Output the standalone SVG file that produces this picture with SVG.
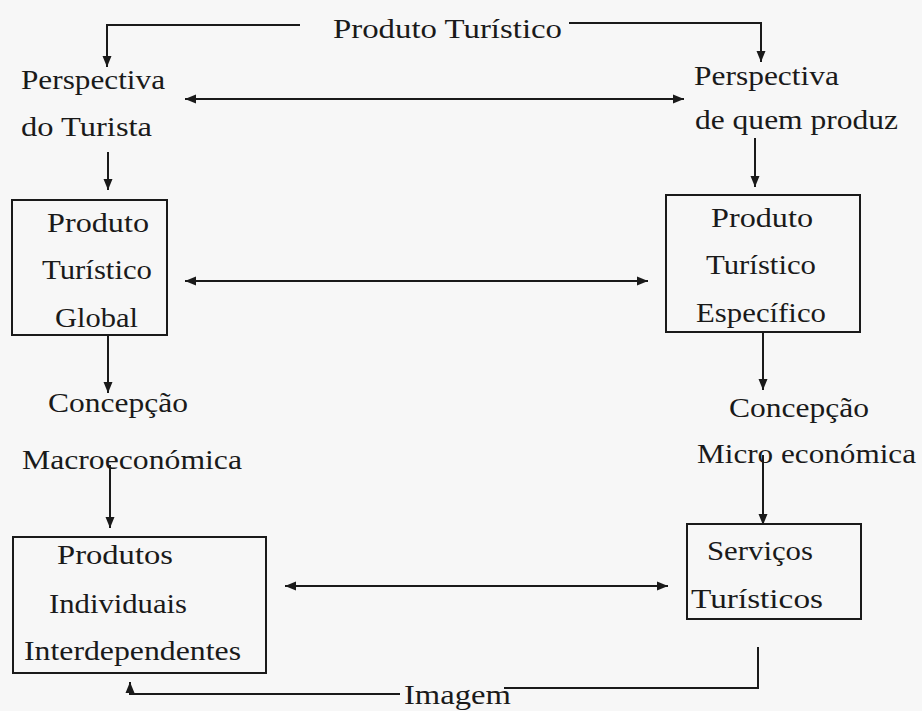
<svg xmlns="http://www.w3.org/2000/svg" width="922" height="711" viewBox="0 0 922 711">
<style>
.t text{font-size:28px;fill:#1a1a1a}
.box{fill:none;stroke:#1a1a1a;stroke-width:2}
.c{fill:none;stroke:#1a1a1a;stroke-width:2}
</style>
<defs>
<marker id="ah" markerUnits="userSpaceOnUse" markerWidth="12" markerHeight="10" refX="11" refY="5" orient="auto-start-reverse">
<path d="M0,0.5 L11,5 L0,9.5 z" fill="#1a1a1a"/>
</marker>
</defs>
<rect width="922" height="711" fill="#f7f7f7"/>
<g class="t" font-family="Liberation Serif, Times New Roman, Times, serif">
<g id="top"><text x="333" y="38" textLength="229" lengthAdjust="spacingAndGlyphs">Produto Turístico</text></g>
<g id="persp-turista">
<text x="21" y="89" textLength="144" lengthAdjust="spacingAndGlyphs">Perspectiva</text>
<text x="21" y="136" textLength="131" lengthAdjust="spacingAndGlyphs">do Turista</text>
</g>
<g id="persp-produz">
<text x="694" y="85" textLength="145" lengthAdjust="spacingAndGlyphs">Perspectiva</text>
<text x="695" y="129" textLength="203" lengthAdjust="spacingAndGlyphs">de quem produz</text>
</g>
<g id="global">
<rect class="box" x="12" y="200" width="155" height="135"/>
<text x="47" y="232" textLength="102" lengthAdjust="spacingAndGlyphs">Produto</text>
<text x="42" y="279" textLength="110" lengthAdjust="spacingAndGlyphs">Turístico</text>
<text x="55" y="327" textLength="83" lengthAdjust="spacingAndGlyphs">Global</text>
</g>
<g id="especifico">
<rect class="box" x="666" y="195" width="194" height="137"/>
<text x="711" y="227" textLength="102" lengthAdjust="spacingAndGlyphs">Produto</text>
<text x="706" y="274" textLength="110" lengthAdjust="spacingAndGlyphs">Turístico</text>
<text x="696" y="322" textLength="130" lengthAdjust="spacingAndGlyphs">Específico</text>
</g>
<g id="macro">
<text x="48" y="412" textLength="140" lengthAdjust="spacingAndGlyphs">Concepção</text>
<text x="22" y="469" textLength="220" lengthAdjust="spacingAndGlyphs">Macroeconómica</text>
</g>
<g id="micro">
<text x="729" y="417" textLength="140" lengthAdjust="spacingAndGlyphs">Concepção</text>
<text x="697" y="463" textLength="219" lengthAdjust="spacingAndGlyphs">Micro económica</text>
</g>
<g id="individuais">
<rect class="box" x="13" y="537" width="253" height="136"/>
<text x="57" y="564" textLength="116" lengthAdjust="spacingAndGlyphs">Produtos</text>
<text x="49" y="613" textLength="138" lengthAdjust="spacingAndGlyphs">Individuais</text>
<text x="24" y="660" textLength="217" lengthAdjust="spacingAndGlyphs">Interdependentes</text>
</g>
<g id="servicos">
<rect class="box" x="687" y="524" width="174" height="95"/>
<text x="707" y="560" textLength="106" lengthAdjust="spacingAndGlyphs">Serviços</text>
<text x="691" y="608" textLength="132" lengthAdjust="spacingAndGlyphs">Turísticos</text>
</g>
<g id="imagem"><text x="404" y="704" textLength="107" lengthAdjust="spacingAndGlyphs">Imagem</text></g>
</g>
<g id="connectors">
<path class="c" d="M300,25 H107 V67" marker-end="url(#ah)"/>
<path class="c" d="M569,23 H761 V62" marker-end="url(#ah)"/>
<path class="c" d="M185,99 H684" marker-start="url(#ah)" marker-end="url(#ah)"/>
<path class="c" d="M108,152 V190" marker-end="url(#ah)"/>
<path class="c" d="M755,138 V187" marker-end="url(#ah)"/>
<path class="c" d="M185,281 H648" marker-start="url(#ah)" marker-end="url(#ah)"/>
<path class="c" d="M108,335 V393" marker-end="url(#ah)"/>
<path class="c" d="M763,332 V390" marker-end="url(#ah)"/>
<path class="c" d="M110,465 V528" marker-end="url(#ah)"/>
<path class="c" d="M763,455 V525" marker-end="url(#ah)"/>
<path class="c" d="M285,586 H668" marker-start="url(#ah)" marker-end="url(#ah)"/>
<path class="c" d="M758,647 V688 H504"/>
<path class="c" d="M400,694 H130 V682" marker-end="url(#ah)"/>
</g>
</svg>
